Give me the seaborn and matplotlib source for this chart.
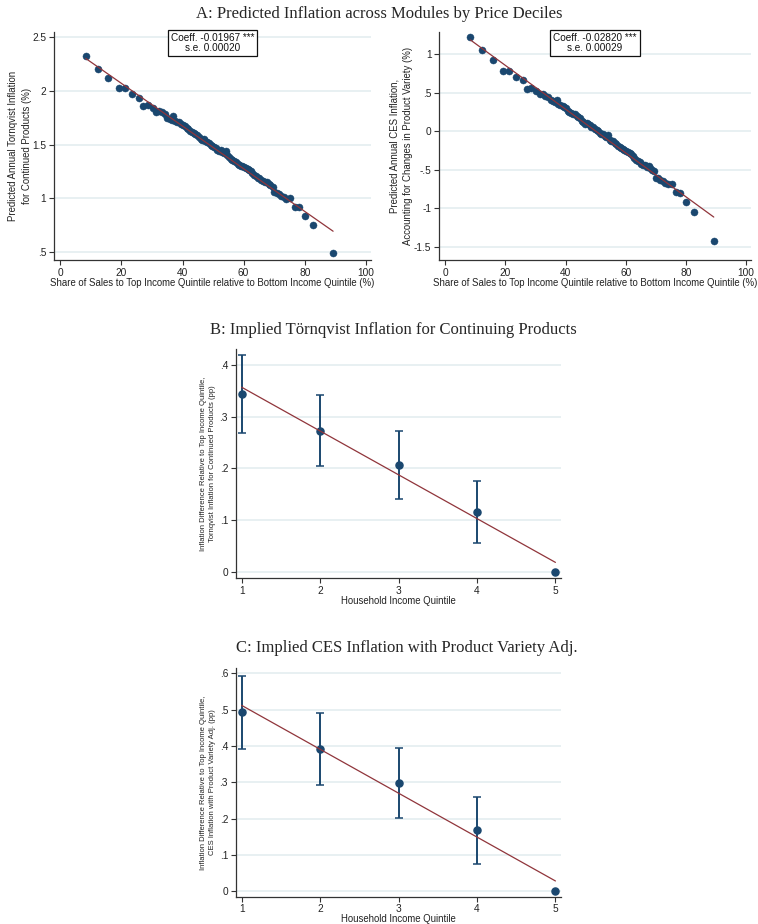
import numpy as np
import pandas as pd
import matplotlib
matplotlib.use("Agg")
import matplotlib.pyplot as plt
import seaborn as sns

# ---------------- Data ----------------
share_top = [8.3, 12.2, 15.7, 19.3, 21.2, 23.5, 25.7, 27.2, 28.6, 30.3, 31.4, 32.4, 33.3, 34.2,
             35.0, 35.8, 36.6, 37.0, 37.6, 38.3, 39.0, 39.6, 40.2, 40.8, 41.3, 41.9, 42.5, 43.1,
             43.7, 44.2, 44.8, 45.3, 45.9, 46.4, 47.0, 47.5, 48.1, 48.6, 49.2, 49.7, 50.3, 50.8,
             51.4, 51.9, 52.5, 53.0, 53.6, 54.1, 54.7, 55.2, 55.8, 56.3, 56.9, 57.4, 58.0, 58.5,
             59.1, 59.6, 60.2, 60.7, 61.3, 61.8, 62.4, 62.9, 63.5, 64.0, 64.6, 65.2, 65.8, 66.4,
             67.0, 67.6, 68.2, 68.8, 69.5, 70.1, 70.8, 71.5, 72.3, 73.2, 74.0, 75.3, 76.8, 78.0,
             80.0, 82.8, 89.3]
tornqvist = [2.32, 2.20, 2.12, 2.02, 2.02, 1.97, 1.93, 1.86, 1.87, 1.84, 1.80, 1.81, 1.80, 1.78,
             1.75, 1.74, 1.73, 1.76, 1.72, 1.71, 1.71, 1.69, 1.68, 1.67, 1.65, 1.64, 1.63, 1.62,
             1.61, 1.60, 1.59, 1.57, 1.55, 1.54, 1.55, 1.53, 1.52, 1.51, 1.50, 1.49, 1.48, 1.47,
             1.45, 1.44, 1.45, 1.43, 1.42, 1.44, 1.40, 1.38, 1.37, 1.36, 1.35, 1.34, 1.32, 1.31,
             1.30, 1.30, 1.29, 1.28, 1.27, 1.26, 1.25, 1.24, 1.22, 1.21, 1.19, 1.19, 1.17, 1.16,
             1.15, 1.15, 1.13, 1.12, 1.11, 1.06, 1.05, 1.04, 1.02, 1.01, 0.99, 1.00, 0.92, 0.92,
             0.84, 0.75, 0.49]
ces = [1.22, 1.05, 0.92, 0.78, 0.78, 0.71, 0.66, 0.55, 0.56, 0.52, 0.48, 0.48, 0.46, 0.44,
       0.41, 0.39, 0.38, 0.41, 0.36, 0.34, 0.33, 0.32, 0.30, 0.26, 0.25, 0.24, 0.23, 0.22,
       0.20, 0.19, 0.17, 0.14, 0.12, 0.10, 0.11, 0.09, 0.08, 0.06, 0.05, 0.03, 0.02, 0.00,
       -0.02, -0.03, -0.04, -0.06, -0.07, -0.05, -0.11, -0.13, -0.12, -0.15, -0.17, -0.19, -0.20, -0.22,
       -0.23, -0.24, -0.26, -0.27, -0.28, -0.29, -0.32, -0.34, -0.37, -0.38, -0.40, -0.42, -0.43, -0.44,
       -0.46, -0.45, -0.48, -0.50, -0.51, -0.60, -0.61, -0.63, -0.65, -0.67, -0.68, -0.68, -0.79, -0.80,
       -0.91, -1.04, -1.42]

quintile = [1, 2, 3, 4, 5]
b_est = [0.343, 0.273, 0.207, 0.116, 0.0]
b_lo = [0.268, 0.205, 0.142, 0.056, 0.0]
b_hi = [0.418, 0.341, 0.272, 0.176, 0.0]
c_est = [0.493, 0.391, 0.298, 0.167, 0.0]
c_lo = [0.392, 0.293, 0.202, 0.075, 0.0]
c_hi = [0.593, 0.490, 0.393, 0.259, 0.0]

coef_text = ["Coeff. -0.01967 ***\ns.e. 0.00020", "Coeff. -0.02820 ***\ns.e. 0.00029"]

# ---------------- Style ----------------
sns.set_theme(style="white")
plt.rcParams['font.family'] = ['Liberation Sans', 'DejaVu Sans']
NAVY = "#1a476f"
MAROON = "#90353b"
GRID = "#e6eff1"
SERIF = ['Liberation Serif', 'DejaVu Serif']

fig = plt.figure(figsize=(7.58, 9.24), dpi=100)

def style_axes(ax, tick_fs=7.3):
    for s in ["top", "right"]:
        ax.spines[s].set_visible(False)
    for s in ["left", "bottom"]:
        ax.spines[s].set_color("#333333")
        ax.spines[s].set_linewidth(0.9)
    ax.tick_params(axis="both", which="major", direction="out", length=3.5, width=0.8,
                   color="#333333", labelsize=tick_fs, pad=2, left=True, bottom=True,
                   labelcolor="#222222")
    ax.grid(axis="y", color=GRID, linewidth=1.3)
    ax.grid(axis="x", visible=False)
    ax.set_axisbelow(True)

def fmt_stata(v):
    s = f"{v:g}"
    if s.startswith("0."):
        s = s[1:]
    elif s.startswith("-0."):
        s = "-" + s[2:]
    return s

# ---------------- Panel A ----------------
dfA = pd.DataFrame({"share": share_top, "torn": tornqvist, "ces": ces})

axA1 = fig.add_axes([0.0712, 0.7186, 0.4182, 0.2468])
axA2 = fig.add_axes([0.5792, 0.7186, 0.4116, 0.2468])

for ax, col, yl, yt, ylab, txt in [
    (axA1, "torn", (0.4286, 2.544), [0.5, 1, 1.5, 2, 2.5],
     "Predicted Annual Tornqvist Inflation\nfor Continued Products (%)", coef_text[0]),
    (axA2, "ces", (-1.668, 1.288), [-1.5, -1, -0.5, 0, 0.5, 1],
     "Predicted Annual CES Inflation,\nAccounting for Changes in Product Variety (%)", coef_text[1]),
]:
    sns.regplot(data=dfA, x="share", y=col, ax=ax, ci=None,
                scatter_kws=dict(s=26, color=NAVY, edgecolor=NAVY, linewidths=0.3, alpha=1, zorder=3),
                line_kws=dict(color=MAROON, lw=0.9, zorder=4))
    ax.set_xlim(-2.1, 101.7)
    ax.set_ylim(*yl)
    ax.set_xticks([0, 20, 40, 60, 80, 100])
    ax.set_yticks(yt)
    ax.set_yticklabels([fmt_stata(v) for v in yt])
    style_axes(ax)
    ax.set_xlabel("Share of Sales to Top Income Quintile relative to Bottom Income Quintile (%)",
                  fontsize=6.9, labelpad=0, color="#222222")
    ax.set_ylabel(ylab, fontsize=6.9, labelpad=0.5, color="#222222", linespacing=1.5)
    ax.text(0.5, 0.995, txt, transform=ax.transAxes, ha="center", va="top", fontsize=7.2,
            linespacing=1.0, color="#111111",
            bbox=dict(boxstyle="square,pad=0.3", fc="white", ec="#111111", lw=0.9))

fig.text(0.5, 0.985, "A: Predicted Inflation across Modules by Price Deciles",
         ha="center", va="center", fontsize=12, family=SERIF)

# ---------------- Panels B and C ----------------
def quint_panel(rect, est, lo, hi, ylim, yt, ylab, title, title_y, title_x):
    ax = fig.add_axes(rect)
    df = pd.DataFrame({"q": quintile, "est": est})
    err_lo = np.array(est) - np.array(lo)
    err_hi = np.array(hi) - np.array(est)
    ax.errorbar(quintile[:4], est[:4], yerr=[err_lo[:4], err_hi[:4]], fmt="none",
                ecolor=NAVY, elinewidth=1.4, capsize=3, capthick=1.1, zorder=2)
    sns.regplot(data=df, x="q", y="est", ax=ax, ci=None,
                scatter_kws=dict(s=26, color=NAVY, alpha=1, zorder=3),
                line_kws=dict(color=MAROON, lw=0.9, zorder=4))
    ax.set_xlim(0.924, 5.07)
    ax.set_ylim(*ylim)
    ax.set_xticks(quintile)
    ax.set_yticks(yt)
    ax.set_yticklabels([fmt_stata(v) for v in yt])
    style_axes(ax)
    ax.set_xlabel("Household Income Quintile", fontsize=6.9, labelpad=0, color="#222222")
    ax.set_ylabel(ylab, fontsize=5.5, labelpad=2.5, color="#222222", linespacing=1.5)
    fig.text(title_x, title_y, title, ha="center", va="center", fontsize=12, family=SERIF)
    return ax

quint_panel([0.311, 0.3741, 0.429, 0.2479], b_est, b_lo, b_hi, (-0.0115, 0.4295),
            [0, 0.1, 0.2, 0.3, 0.4],
            "Inflation Difference Relative to Top Income Quintile,\nTornqvist Inflation for Continued Products (pp)",
            "B: Implied Törnqvist Inflation for Continuing Products", 0.643, 0.519)

quint_panel([0.311, 0.0295, 0.429, 0.2472], c_est, c_lo, c_hi, (-0.0157, 0.614),
            [0, 0.1, 0.2, 0.3, 0.4, 0.5, 0.6],
            "Inflation Difference Relative to Top Income Quintile,\nCES Inflation with Product Variety Adj. (pp)",
            "C: Implied CES Inflation with Product Variety Adj.", 0.299, 0.537)

fig.savefig("out.png", dpi=100, facecolor="white")
